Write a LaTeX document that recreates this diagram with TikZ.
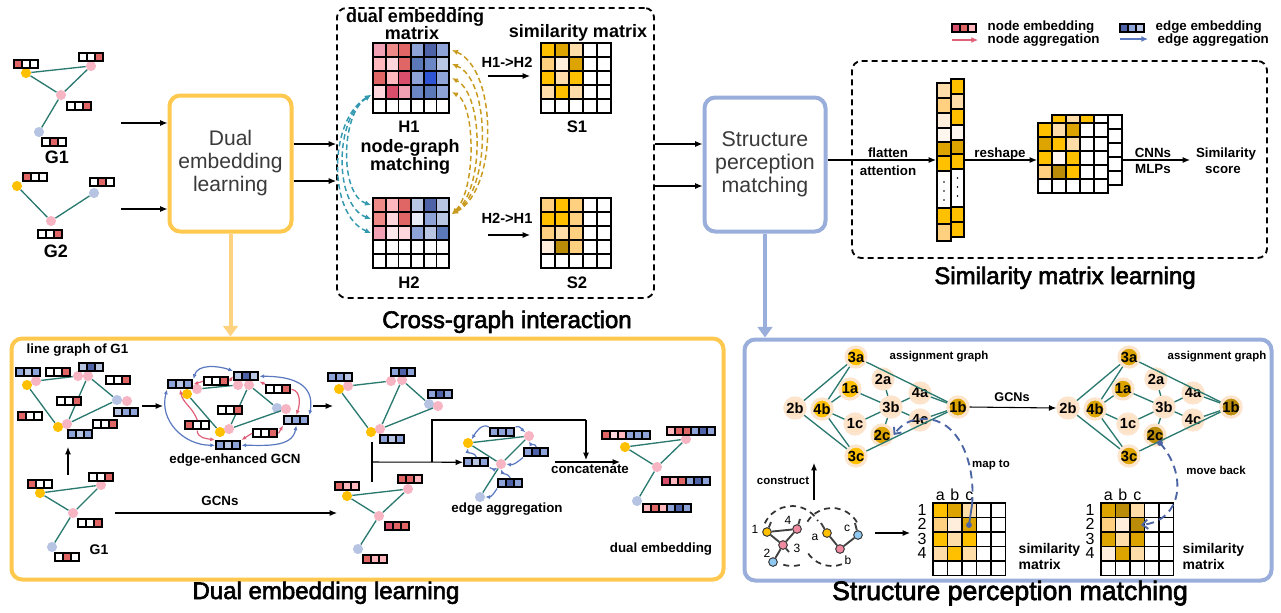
\documentclass[tikz,border=0pt]{standalone}
\usepackage{fontspec}
\setmainfont{Liberation Sans}
\newfontfamily\ttlfont[FakeBold=2.5]{Liberation Sans}
\usetikzlibrary{arrows.meta,calc}
\definecolor{gA}{HTML}{FFC000}
\definecolor{gB}{HTML}{DDA400}
\definecolor{gC}{HTML}{BB8C08}
\definecolor{gD}{HTML}{FFD080}
\definecolor{gE}{HTML}{FFDDA8}
\definecolor{gF}{HTML}{FFEEDB}
\definecolor{gG}{HTML}{FFF6EE}
\definecolor{lt}{HTML}{FFE2C4}
\definecolor{rA}{HTML}{E06666}
\definecolor{rB}{HTML}{EE8A88}
\definecolor{rC}{HTML}{FFB8BE}
\definecolor{rD}{HTML}{FFD6DC}
\definecolor{rE}{HTML}{D94F6B}
\definecolor{rF}{HTML}{F2A0B4}
\definecolor{rG}{HTML}{FFE8EC}
\definecolor{bA}{HTML}{8EA4D8}
\definecolor{bB}{HTML}{4E62A8}
\definecolor{bC}{HTML}{5B78B8}
\definecolor{bD}{HTML}{B8C6E4}
\definecolor{bE}{HTML}{2F55D4}
\definecolor{bF}{HTML}{E8ECF6}
\definecolor{bG}{HTML}{6A86C4}
\definecolor{w}{HTML}{FFFFFF}
\definecolor{edgec}{HTML}{2B7A70}
\definecolor{ypan}{HTML}{FFC94F}
\definecolor{yarr}{HTML}{FFD27F}
\definecolor{bpan}{HTML}{9AAEDC}
\definecolor{pnode}{HTML}{F7B5C3}
\definecolor{bnode}{HTML}{B7C3E2}
\definecolor{halo}{HTML}{FDE4CC}
\definecolor{tdc}{HTML}{3399B0}
\definecolor{gdc}{HTML}{C89A1E}
\definecolor{nag}{HTML}{E0607A}
\definecolor{eag}{HTML}{5A78C0}
\definecolor{mapc}{HTML}{4A64A4}
\definecolor{txtg}{HTML}{3A3A3A}
\definecolor{spk}{HTML}{F08AA0}
\definecolor{sbl}{HTML}{8EC8F0}

\newcommand\Emb[5]{%
  \node[embb,minimum width=#4*0.75pt,anchor=north west] (#1) at (#2,#3) {};
  \foreach \cc [count=\k] in {#5}{%
    \fill[black] ({#2+(\k-1)*8},#3) rectangle ++(10,10);
    \fill[\cc] ({#2+(\k-1)*8+2},{#3+2}) rectangle ++(6,6);}%
}
\newcommand\Mat[7]{%
  \fill[white] (#1,#2) rectangle ++({#3*#5},{#4*#6});
  \foreach \r/\c/\cc in {#7}{\fill[\cc] ({#1+(\c-1)*#5},{#2+(\r-1)*#6}) rectangle ++(#5,#6);}
  \foreach \i in {0,...,#3}{\draw[gridl] ({#1+\i*#5},#2) -- ++(0,{#4*#6});}
  \foreach \j in {0,...,#4}{\draw[gridl] (#1,{#2+\j*#6}) -- ++({#3*#5},0);}
}

\begin{document}
\begin{tikzpicture}[x=0.75pt,y=-0.75pt,
  gn/.style={circle,inner sep=0pt,minimum size=7.6pt,draw=none},
  yn/.style={gn,fill=gA},
  pn/.style={gn,fill=pnode},
  bn/.style={gn,fill=bnode},
  ed/.style={draw=edgec,line width=1pt},
  embb/.style={inner sep=0pt,minimum height=7.5pt,draw=none},
  arr/.style={-{Latex[length=5.5pt,width=4.5pt]},line width=0.8pt},
  gridl/.style={line width=1.3pt,line cap=rect},
  ybox/.style={draw=ypan,line width=3pt,rounded corners=8pt,fill=white},
  bbox/.style={draw=bpan,line width=3pt,rounded corners=8pt,fill=white},
  dbox/.style={draw=black,line width=1.4pt,dash pattern=on 4.5pt off 3pt,rounded corners=7pt,inner sep=0pt},
  ttl/.style={font=\ttlfont\fontsize{18}{21}\selectfont,anchor=base},
  bxt/.style={font=\fontsize{15.8}{17.25}\selectfont,text=txtg,align=center},
  mlb/.style={font=\bfseries\fontsize{13.5}{15}\selectfont,anchor=base},
  hlb/.style={font=\bfseries\fontsize{12.5}{15}\selectfont,anchor=base},
  alb/.style={font=\bfseries\fontsize{11}{13}\selectfont,anchor=base},
  slb/.style={font=\bfseries\fontsize{10}{12}\selectfont,anchor=base},
  xlb/.style={font=\bfseries\fontsize{8.6}{10}\selectfont,anchor=base},
  leg/.style={font=\bfseries\fontsize{10}{11}\selectfont,anchor=base west},
  nlb/.style={font=\fontsize{12}{14}\selectfont,anchor=base},
  snl/.style={font=\fontsize{9}{10}\selectfont},
  tdash/.style={draw=tdc,line width=1.1pt,dash pattern=on 4pt off 2.5pt,{Latex[length=4.5pt,width=4pt]}-{Latex[length=4.5pt,width=4pt]}},
  gdash/.style={draw=gdc,line width=1.1pt,dash pattern=on 4pt off 2.5pt,{Latex[length=4.5pt,width=4pt]}-{Latex[length=4.5pt,width=4pt]}},
  ean/.style={draw=eag,line width=0.9pt,{Latex[length=3.5pt,width=3pt]}-{Latex[length=3.5pt,width=3pt]}},
  nan/.style={draw=nag,line width=0.9pt,-{Latex[length=3.5pt,width=3pt]}},
  eone/.style={draw=eag,line width=0.9pt,-{Latex[length=3.5pt,width=3pt]}},
  an/.style={circle,inner sep=0pt,minimum size=15pt,draw=halo,line width=2.4pt,font=\bfseries\fontsize{11}{12}\selectfont},
  sn/.style={circle,inner sep=0pt,minimum size=6.5pt,draw=black!80,line width=0.7pt},
  sed/.style={draw=black!75,line width=1.4pt},
  sdash/.style={draw=black!80,line width=1.3pt,dash pattern=on 4.5pt off 3.5pt},
  mapd/.style={draw=mapc,line width=1.4pt,dash pattern=on 6pt off 4pt,-{Straight Barb[length=4pt,width=7pt]}},
]
\useasboundingbox (0,0) rectangle (1281,612);
\fill[white] (0,0) rectangle (1281,612);

%% ---------------- boxes ----------------
\node[ybox,minimum width=91.5pt,minimum height=102pt,bxt] (deb) at (230.5,163.5) {Dual\\embedding\\learning};
\node[bbox,minimum width=90.75pt,minimum height=100.5pt,bxt,font=\fontsize{16}{17.25}\selectfont] (spm) at (765,164.5) {Structure\\perception\\matching};
\node[dbox,minimum width=237.75pt,minimum height=217.5pt] (cgi) at (495.5,153) {};
\node[dbox,minimum width=311.25pt,minimum height=147.75pt] (smb) at (1059.5,159.5) {};
\node[ybox,fill=none,minimum width=534pt,minimum height=180.75pt] (yp) at (367.5,459) {};
\node[bbox,fill=none,minimum width=395.25pt,minimum height=180.75pt] (bp) at (1008,460) {};

\draw[yarr,line width=3pt,-{Triangle[length=8pt,width=11pt]}] (deb.south) -- (deb.south |- yp.north);
\draw[bpan,line width=3pt,-{Triangle[length=8pt,width=11pt]}] (spm.south) -- (spm.south |- bp.north);

%% ---------------- top-left graphs ----------------
\node[yn] (ga1) at (26,73) {};
\node[pn] (ga2) at (91,66) {};
\node[pn] (ga3) at (61,95) {};
\node[bn] (ga4) at (39,132) {};
\draw[ed] (ga1)--(ga2) (ga1)--(ga3) (ga2)--(ga3) (ga3)--(ga4);
\Emb{ea1}{13}{59}{26}{rA,w,w}
\Emb{ea2}{78}{52}{26}{w,w,rA}
\Emb{ea3}{66}{101}{26}{w,w,rA}
\Emb{ea4}{41}{137}{26}{w,rA,w}
\node[hlb,font=\bfseries\fontsize{13.5}{15}\selectfont] (lg1) at (57,163) {G1};

\node[yn] (gb1) at (17,186) {};
\node[pn] (gb2) at (51,221) {};
\node[bn] (gb3) at (94,193) {};
\draw[ed] (gb1)--(gb2) (gb2)--(gb3);
\Emb{eb1}{22}{172}{26}{rA,w,w}
\Emb{eb2}{89}{177}{26}{w,rA,w}
\Emb{eb3}{37}{229}{26}{w,w,rA}
\node[hlb,font=\bfseries\fontsize{13.5}{15}\selectfont] (lg2) at (56,257) {G2};

\coordinate (y123) at (121,123);
\coordinate (y209) at (121,209);
\draw[arr] (y123) -- (deb.west |- y123);
\draw[arr] (y209) -- (deb.west |- y209);
\coordinate (y144) at (0,144);
\coordinate (y181) at (0,181);
\coordinate (y186) at (0,186);
\draw[arr] (deb.east |- y144) -- (cgi.west |- y144);
\draw[arr] (deb.east |- y181) -- (cgi.west |- y181);
\draw[arr] (cgi.east |- y144) -- (spm.west |- y144);
\draw[arr] (cgi.east |- y186) -- (spm.west |- y186);

%% ---------------- cross-graph interaction ----------------
\node[mlb] (tdem) at (415,22) {dual embedding};
\node[mlb] (tdem2) at (412,39) {matrix};
\node[mlb] (tsim) at (578,37) {similarity matrix};
\Mat{373}{43}{6}{5}{12.7}{14}{1/1/rF,1/2/rB,1/3/rA,1/4/bA,1/5/bB,1/6/bA,2/1/rC,2/2/rD,2/3/rA,2/4/bC,2/5/bG,2/6/bD,3/1/rA,3/2/rC,3/3/rE,3/4/bA,3/5/bE,3/6/bA,4/1/rD,4/2/rE,4/3/rF,4/4/bG,4/5/bC,4/6/bA}
\Mat{373}{198}{6}{5}{12.7}{14}{1/1/rB,1/2/rC,1/3/rA,1/4/bD,1/5/bB,1/6/bD,2/1/rB,2/2/rD,2/3/rA,2/4/bF,2/5/bA,2/6/bD,3/1/rF,3/2/rG,3/3/rD,3/4/bA,3/5/bD,3/6/bC}
\Mat{541}{43}{5}{5}{14}{14}{1/1/gA,1/2/gB,1/3/gE,2/1/gD,2/2/gF,2/3/gB,3/1/gA,3/2/gE,3/3/gA,4/1/gE,4/2/gA,4/3/gE}
\Mat{541}{198}{5}{5}{14}{14}{1/1/gD,1/2/gA,1/3/gD,2/1/gA,2/2/gA,2/3/gD,3/1/gD,3/2/gE,3/3/gD,4/1/gF,4/2/gC,4/3/gD}
\node[hlb] (lh1) at (409,132) {H1};
\node[hlb] (lh2) at (409,288) {H2};
\node[hlb] (ls1) at (577,132) {S1};
\node[hlb] (ls2) at (577,288) {S2};
\node[mlb] (tng) at (410,152) {node-graph};
\node[mlb] (tng2) at (410,170) {matching};
\node[alb] (t12) at (507,67) {H1->H2};
\node[alb] (t21) at (507,223) {H2->H1};
\coordinate (h12a) at (488,76); \coordinate (h12b) at (530,76);
\coordinate (h21a) at (488,235); \coordinate (h21b) at (530,235);
\draw[arr] (h12a) -- (h12b);
\draw[arr] (h21a) -- (h21b);
\coordinate (tA) at (371,95);
\coordinate (tB1) at (371,205);
\coordinate (tB2) at (371,219);
\coordinate (tB3) at (371,233);
\draw[tdash] (tA) .. controls (340,115) and (340,195) .. (tB1);
\draw[tdash] (tA) .. controls (334,118) and (334,205) .. (tB2);
\draw[tdash] (tA) .. controls (328,120) and (328,215) .. (tB3);
\coordinate (gB) at (452,214);
\coordinate (gA1) at (452,50);
\coordinate (gA2) at (452,64);
\coordinate (gA3) at (452,78);
\coordinate (gA4) at (452,92);
\draw[gdash] (gB) .. controls (498,190) and (498,70) .. (gA1);
\draw[gdash] (gB) .. controls (491,190) and (491,80) .. (gA2);
\draw[gdash] (gB) .. controls (484,190) and (484,95) .. (gA3);
\draw[gdash] (gB) .. controls (476,190) and (476,105) .. (gA4);
\node[ttl] (tcgi) at (507,328) {Cross-graph interaction};

%% ---------------- legend ----------------
\Emb{lgn}{951}{23}{26}{rE,rA,rC}
\Emb{lge}{1119}{23}{26}{bB,bA,bD}
\node[leg] (lt1) at (983,30) {node embedding};
\node[leg] (lt2) at (983,43) {node aggregation};
\node[leg] (lt3) at (1151,30) {edge embedding};
\node[leg] (lt4) at (1153,43) {edge aggregation};
\coordinate (la1) at (952,40); \coordinate (la2) at (978,40);
\coordinate (la3) at (1120,39); \coordinate (la4) at (1148,39);
\draw[nag,line width=1.1pt,-{Latex[length=5pt,width=4.5pt]}] (la1) -- (la2);
\draw[eag,line width=1.1pt,-{Latex[length=5pt,width=4.5pt]}] (la3) -- (la4);

%% ---------------- similarity matrix learning ----------------
\foreach \a/\b/\cc in {79/94/gA,94/109/gE,109/125/gA,125/140/gG,140/154/gB,154/169/gA,169/207/w,207/222/gA,222/237/gA}
  {\filldraw[fill=\cc,draw=black,line width=1.3pt] (951,\a) rectangle (964,\b);}
\foreach \a/\b/\cc in {83/98/gE,98/113/gD,113/128/gF,128/142/gG,142/156/gB,156/171/gA,171/208/w,208/224/gA,224/241/gD}
  {\filldraw[fill=\cc,draw=black,line width=1.3pt] (937,\a) rectangle (951,\b);}
\foreach \yy in {182,191,200}{\fill (944,\yy) circle (0.6pt);}
\foreach \yy in {178,187,196}{\fill (957.5,\yy) circle (0.6pt);}
\Mat{1052}{115}{5}{5}{14}{14}{1/1/gA,1/2/gE,1/3/gA}
\Mat{1038}{123}{5}{5}{14}{14}{1/1/gA,1/2/gE,1/3/gB,2/1/gB,2/2/gA,2/3/gE,3/1/gA,3/2/gG,3/3/gA,4/1/gD,4/2/gC,4/3/gA}
\coordinate (colL) at (936,160);
\coordinate (colR) at (965,160);
\coordinate (rmL) at (1037,160);
\coordinate (rmR) at (1123,160);
\coordinate (scL) at (1190,160);
\draw[arr] (spm.east |- colL) -- (colL);
\draw[arr] (colR) -- (rmL);
\draw[arr] (rmR) -- (scL);
\node[slb] (tfl) at (888,157) {flatten};
\node[slb] (tat) at (888,175) {attention};
\node[slb] (trs) at (1000,157) {reshape};
\node[slb] (tcn) at (1153,157) {CNNs};
\node[slb] (tml) at (1153,173) {MLPs};
\node[slb] (tss) at (1226,157) {Similarity};
\node[slb] (tsc) at (1223,173) {score};
\node[ttl] (tsml) at (1065,284) {Similarity matrix learning};

%% ---------------- bottom-left panel ----------------
\node[slb,anchor=base west] (tlg) at (22,353) {line graph of G1};
\node[yn] (l1) at (27,385) {};
\node[pn] (l2) at (36,381) {};
\node[pn] (l3) at (78,376) {};
\node[pn] (l4) at (88,376) {};
\node[bn] (l5) at (117,400) {};
\node[pn] (l6) at (127,401) {};
\node[yn] (l7) at (58,427) {};
\node[pn] (l8) at (67,424) {};
\draw[ed] (l2)--(l3) (l4)--(l5) (l4)--(l8) (l5)--(l8) (l1)--(l7);
\Emb{le1}{15}{367}{26}{bA,bD,bA}
\Emb{le2}{45}{367}{26}{w,w,rA}
\Emb{le3}{78}{362}{26}{bD,bB,bD}
\Emb{le4}{105}{375}{26}{w,w,rA}
\Emb{le5}{56}{396}{26}{w,w,rA}
\Emb{le6}{17}{411}{26}{rA,w,w}
\Emb{le7}{113}{407}{26}{bD,bA,bA}
\Emb{le8}{92}{419}{26}{w,w,rA}
\Emb{le9}{67}{429}{26}{bA,bD,bA}
\node[yn] (m1) at (40,493) {};
\node[pn] (m2) at (101,485) {};
\node[pn] (m3) at (73,513) {};
\node[bn] (m4) at (52,547) {};
\draw[ed] (m1)--(m2) (m1)--(m3) (m2)--(m3) (m3)--(m4);
\Emb{me1}{27}{479}{26}{rA,w,w}
\Emb{me2}{88}{472}{26}{w,w,rA}
\Emb{me3}{77}{518}{26}{w,w,rA}
\Emb{me4}{54}{552}{26}{w,rA,w}
\node[slb,font=\bfseries\fontsize{10.5}{12}\selectfont] (tg1b) at (99,554) {G1};
\coordinate (upA) at (68,475); \coordinate (upB) at (68,447);
\draw[arr] (upA) -- (upB);
\coordinate (gcA) at (115,513); \coordinate (gcB) at (337,513);
\draw[arr] (gcA) -- (gcB);
\node[slb] (tgcn) at (220,505) {GCNs};
\coordinate (r1A) at (142,406); \coordinate (r1B) at (163,406);
\draw[arr] (r1A) -- (r1B);
\node[yn] (k1) at (187,394) {};
\node[pn] (k2) at (197,389) {};
\node[pn] (k3) at (238,385) {};
\node[pn] (k4) at (249,385) {};
\node[bn] (k5) at (277,408) {};
\node[pn] (k6) at (286,409) {};
\node[yn] (k7) at (220,432) {};
\node[pn] (k8) at (229,429) {};
\draw[ed] (k2)--(k3) (k4)--(k5) (k4)--(k8) (k6)--(k8) (k1)--(k7);
\Emb{kE1}{167}{379}{26}{bA,bD,bA}
\Emb{kE2}{233}{371}{26}{bD,bB,bD}
\Emb{kE3}{283}{415}{26}{bD,bA,bA}
\Emb{kE4}{215}{440}{26}{bA,bD,bA}
\Emb{kN1}{203}{376}{26}{w,w,rA}
\Emb{kN2}{265}{384}{26}{w,w,rA}
\Emb{kN3}{217}{405}{26}{w,w,rA}
\Emb{kN4}{184}{420}{26}{rA,w,w}
\Emb{kN5}{252}{428}{26}{w,w,rA}
\draw[ean] (kE1.north east) to[out=75,in=160] (kE2.north west);
\draw[ean] (kE2.east) to[out=0,in=80,looseness=1.3] (kE3.north east);
\draw[ean] (kE1.south west) to[out=-105,in=180,looseness=1.1] (kE4.west);
\draw[ean] (kE4.east) to[out=0,in=-100] (kE3.south);
\draw[nan] (kN1.west) -- (kE1.east);
\draw[nan] (kN1.east) -- (kE2.west);
\draw[nan] (kN2.north west) -- (kE2.south east);
\draw[nan] (kN2.east) to[out=-10,in=70] (kE3.north);
\draw[nan] (kN4.north) to[out=110,in=-80] (kE1.south);
\draw[nan] (kN4.south) to[out=-90,in=170] (kE4.north west);
\draw[nan] (kN5.west) -- (kE4.north east);
\draw[nan] (kN5.east) -- (kE3.south west);
\node[slb] (tee) at (235,463) {edge-enhanced GCN};
\coordinate (r2A) at (313,406); \coordinate (r2B) at (333,406);
\draw[arr] (r2A) -- (r2B);
\node[yn] (t1) at (339,389) {};
\node[pn] (t2) at (348,386) {};
\node[pn] (t3) at (391,381) {};
\node[pn] (t4) at (402,380) {};
\node[bn] (t5) at (429,404) {};
\node[pn] (t6) at (438,406) {};
\node[yn] (t7) at (371,432) {};
\node[pn] (t8) at (380,429) {};
\draw[ed] (t2)--(t3) (t4)--(t5) (t4)--(t8) (t6)--(t8) (t1)--(t7);
\Emb{te1}{327}{372}{26}{bA,bA,bD}
\Emb{te2}{390}{367}{26}{bA,bB,bA}
\Emb{te3}{427}{389}{26}{bA,bB,bA}
\Emb{te4}{379}{434}{26}{bA,bD,bA}
\node[yn] (f1) at (347,496) {};
\node[pn] (f2) at (408,489) {};
\node[pn] (f3) at (379,516) {};
\node[bn] (f4) at (358,549) {};
\draw[ed] (f1)--(f2) (f1)--(f3) (f2)--(f3) (f3)--(f4);
\Emb{fe1}{334}{481}{26}{rA,rC,rC}
\Emb{fe2}{397}{474}{26}{rA,rA,rC}
\Emb{fe3}{384}{521}{26}{rE,rA,rA}
\Emb{fe4}{362}{554}{26}{rA,rC,rC}
\coordinate (jT) at (372,442);
\coordinate (jB) at (372,482);
\coordinate (jM) at (372,462);
\coordinate (jS) at (432,462);
\coordinate (jU) at (432,420);
\coordinate (jR) at (586,420);
\coordinate (jD) at (586,460);
\draw[line width=0.8pt] (jT) -- (jB);
\draw[line width=0.8pt] (jS) -- (jU) -- (jR);
\draw[arr] (jR) -- (jD);
\node[yn] (q1) at (468,443) {};
\node[pn] (q2) at (529,436) {};
\node[pn] (q3) at (501,464) {};
\node[bn] (q4) at (480,497) {};
\draw[ed] (q1)--(q2) (q1)--(q3) (q3)--(q2) (q3)--(q4);
\Emb{qe1}{489}{427}{26}{bA,bA,bA}
\Emb{qe2}{523}{447}{26}{bA,bB,bA}
\Emb{qe3}{463}{457}{26}{bA,bD,bA}
\Emb{qe4}{497}{478}{26}{bA,bB,bA}
\draw[arr] (jM) -- (qe3.west);
\draw[eone] (qe1.north west) to[out=150,in=60] (q1.north east);
\draw[eone] (qe1.north east) to[out=30,in=140] (q2.north west);
\draw[eone] (qe2.north) to[out=100,in=-60] (q2.south);
\draw[eone] (qe2.south west) to[out=-140,in=-10] (q3.east);
\draw[eone] (qe3.north) to[out=100,in=-100] (q1.south);
\draw[eone] (qe3.south east) to[out=-30,in=-150] (q3.south west);
\draw[eone] (qe4.north) to[out=110,in=-70] (q3.south);
\draw[eone] (qe4.south west) to[out=-120,in=0] (q4.east);
\node[slb] (tea) at (507,512) {edge aggregation};
\coordinate (ccA) at (555,462); \coordinate (ccB) at (620,462);
\draw[arr] (ccA) -- (ccB);
\node[slb] (tcc) at (590,473) {concatenate};
\node[yn] (d1) at (625,447) {};
\node[pn] (d2) at (686,439) {};
\node[pn] (d3) at (657,467) {};
\node[bn] (d4) at (637,501) {};
\draw[ed] (d1)--(d2) (d1)--(d3) (d2)--(d3) (d3)--(d4);
\Emb{de1}{601}{430}{50}{rA,rD,rC,bA,bA,bA}
\Emb{de2}{666}{426}{50}{rC,rA,rA,bA,bB,bA}
\Emb{de3}{661}{476}{50}{rE,rC,rA,bA,bB,bA}
\Emb{de4}{642}{503}{50}{rC,rA,rC,bA,bB,bA}
\node[slb] (tde) at (661,552) {dual embedding};
\node[ttl] (tdel) at (326,599) {Dual embedding learning};

%% ---------------- bottom-right panel ----------------
\foreach \n/\x/\y/\cc in {3a/856/357/gA,2b/795/408/lt,4b/822/409/gA,1a/850/389/gA,1c/855/424/lt,2a/883/379/lt,3b/891/407/lt,2c/882/435/gB,4a/920/393/lt,4c/920/420/lt,1b/958/407/gB,3c/856/456/gA}
  {\node[an,fill=\cc] (A\n) at (\x,\y) {\n};}
\foreach \n/\x/\y/\cc in {3a/856/357/gB,2b/795/408/lt,4b/822/409/gB,1a/850/389/gB,1c/855/424/lt,2a/883/379/lt,3b/891/407/lt,2c/882/435/gC,4a/920/393/lt,4c/920/420/lt,1b/958/407/gC,3c/856/456/gB}
  {\node[an,fill=\cc] (B\n) at ({\x+273},\y) {\n};}
\foreach \u/\v in {2b/3a,2b/3c,4b/3a,4b/3c,4b/1a,4b/1c,1a/3b,1c/3b,2a/3b,3b/2c,3b/4a,3b/4c,4a/1b,4c/1b,3a/1b,3c/1b}
  {\draw[ed] (A\u) -- (A\v); \draw[ed] (B\u) -- (B\v);}
\node[xlb] (tag1) at (939,359) {assignment graph};
\node[xlb] (tag2) at (1217,359) {assignment graph};
\draw[arr] (A1b.east) -- (B2b.west);
\node[slb,font=\bfseries\fontsize{9.5}{11}\selectfont] (tgc2) at (1012,401) {GCNs};
\coordinate (lc) at (792,536);
\coordinate (rc) at (832,537);
\draw[sdash] ($(lc)+(205:30)$) arc[start angle=205,end angle=330,radius=30];
\draw[sdash] ($(lc)+(75:30)$) arc[start angle=75,end angle=110,radius=30];
\draw[sdash] ($(rc)+(212:29)$) arc[start angle=212,end angle=330,radius=29];
\draw[sdash] ($(rc)+(70:29)$) arc[start angle=70,end angle=150,radius=29];
\node[sn,fill=gA] (s1) at (767,532) {};
\node[sn,fill=spk] (s4) at (797,529) {};
\node[sn,fill=spk] (s3) at (783,545) {};
\node[sn,fill=sbl] (s2) at (773,562) {};
\node[sn,fill=gA] (sa) at (827,533) {};
\node[sn,fill=spk] (sb) at (840,549) {};
\node[sn,fill=sbl] (sc) at (858,535) {};
\coordinate (st1) at (771,522);
\coordinate (st4) at (800,519);
\coordinate (sta) at (821,523);
\coordinate (stc) at (855,523);
\coordinate (st3) at (789,552);
\draw[sed] (s1)--(s4) (s1)--(s3) (s4)--(s3) (s3)--(s2) (sa)--(sb) (sb)--(sc);
\draw[sed] (s1)--(st1) (s4)--(st4) (sa)--(sta) (sc)--(stc) (s3)--(st3);
\node[snl] (n1) at (755,529) {1};
\node[snl] (n4) at (788,520) {4};
\node[snl] (n3) at (797,548) {3};
\node[snl] (n2) at (767,553) {2};
\node[snl] (na) at (815,537) {a};
\node[snl] (nc) at (847,528) {c};
\node[snl] (nb) at (848,560) {b};
\coordinate (cnA) at (814,500); \coordinate (cnB) at (814,463);
\draw[arr] (cnA) -- (cnB);
\node[xlb] (tcon) at (783,484) {construct};
\coordinate (smA) at (875,533); \coordinate (smB) at (910,533);
\draw[arr] (smA) -- (smB);
\Mat{933}{503}{5}{5}{14.5}{14.5}{1/1/gA,1/2/gB,1/3/gE,2/1/gD,2/2/gF,2/3/gB,3/1/gA,3/2/gE,3/3/gA,4/1/gE,4/2/gA,4/3/gE}
\Mat{1101}{503}{5}{5}{14.5}{14.5}{1/1/gB,1/2/gC,1/3/gE,2/1/gD,2/2/gF,2/3/gC,3/1/gB,3/2/gE,3/3/gB,4/1/gF,4/2/gB,4/3/gE}
\foreach \t [count=\k] in {a,b,c}{
  \node[nlb] (ca\k) at ({933+(\k-1)*14.5+7.25},500) {\t};
  \node[nlb] (cb\k) at ({1101+(\k-1)*14.5+7.25},500) {\t};}
\foreach \t [count=\k] in {1,2,3,4}{
  \node[nlb] (ra\k) at (922,{503+(\k-1)*14.5+12}) {\t};
  \node[nlb] (rb\k) at (1090,{503+(\k-1)*14.5+12}) {\t};}
\node[slb,anchor=base west,font=\bfseries\fontsize{10.5}{12}\selectfont] (tsm1) at (1014,553) {similarity};
\node[slb,anchor=base west,font=\bfseries\fontsize{10.5}{12}\selectfont] (tsm1b) at (1014,569) {matrix};
\node[slb,anchor=base west,font=\bfseries\fontsize{10.5}{12}\selectfont] (tsm2) at (1178,553) {similarity};
\node[slb,anchor=base west,font=\bfseries\fontsize{10.5}{12}\selectfont] (tsm2b) at (1178,569) {matrix};
\coordinate (m1d) at (969,525);
\coordinate (m1t) at (972,505);
\fill[mapc] (m1d) circle (2.2pt);
\draw[mapc,line width=1.4pt] (m1d) -- (m1t);
\draw[mapd] (m1t) .. controls (976,460) and (957,419) .. (925,419) .. controls (910,419) and (902,424) .. (A2c.east);
\node[xlb] (tmap) at (991,467) {map to};
\coordinate (m2d) at (1160,443);
\coordinate (m2c) at (1141,525);
\fill[mapc] (m2d) circle (2.2pt);
\draw[mapd] (m2d) .. controls (1188,475) and (1182,520) .. (m2c);
\node[xlb] (tmb) at (1216,474) {move back};
\node[ttl,font=\ttlfont\fontsize{20}{22}\selectfont] (tspm) at (1010,600) {Structure perception matching};
\end{tikzpicture}
\end{document}
